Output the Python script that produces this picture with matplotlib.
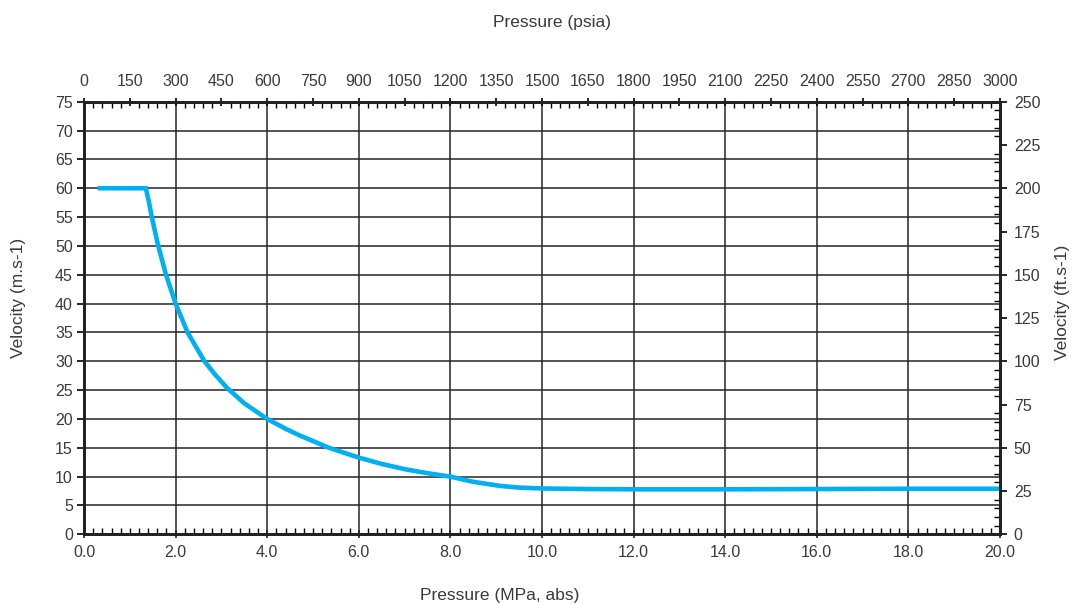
import matplotlib.pyplot as plt
from matplotlib.ticker import MultipleLocator

plt.rcParams["font.family"] = ["Liberation Sans", "DejaVu Sans"]
plt.rcParams["font.size"] = 11.5

# values
pressure_mpa = [0.3, 1.35, 1.42, 1.48, 1.62, 1.79, 2.0, 2.26, 2.63, 2.85, 3.12, 3.5, 4.0, 4.4, 4.72,
                5.35, 6.0, 6.5, 7.0, 7.5, 8.0, 8.5, 9.08, 9.5, 10.0, 11.0, 12.0, 14.0, 16.0, 18.0, 20.0]
velocity_ms = [60, 60, 57.5, 55, 50, 45, 40, 35, 30, 27.8, 25.4, 22.7, 20, 18.3, 17.1,
               15, 13.3, 12.2, 11.3, 10.6, 10.0, 9.1, 8.4, 8.1, 7.95, 7.85, 7.8, 7.8, 7.85, 7.9, 7.9]

mpa_ticks = [0, 2, 4, 6, 8, 10, 12, 14, 16, 18, 20]
psia_ticks = list(range(0, 3001, 150))
ms_ticks = list(range(0, 76, 5))
fts_ticks = list(range(0, 251, 25))

line_color = "#00B0F0"
grid_color = "#262626"
text_color = "#3a3a3a"

figure = plt.figure(figsize=(10.72, 6.03), dpi=100)
ax = figure.add_axes([0.0784, 0.1139, 0.8544, 0.7174])

ax.plot(pressure_mpa, velocity_ms, color=line_color, linewidth=3.3,
        solid_joinstyle="miter", solid_capstyle="butt", zorder=5)

ax.set_xlim(0, 20)
ax.set_ylim(0, 75)
ax.set_xticks(mpa_ticks)
ax.set_xticklabels([f"{t:.1f}" for t in mpa_ticks])
ax.set_yticks(ms_ticks)
ax.xaxis.set_minor_locator(MultipleLocator(0.2))
ax.grid(True, which="major", color=grid_color, linewidth=1.1)
ax.tick_params(axis="x", which="major", direction="inout", length=6, width=1.2, pad=5, colors="#222222", labelcolor=text_color)
ax.tick_params(axis="x", which="minor", direction="in", length=4, width=1.0)
ax.tick_params(axis="y", which="major", direction="out", length=5, width=1.2, pad=3, labelcolor=text_color)
ax.set_axisbelow(True)

ax_top = ax.twiny()
ax_top.set_xlim(0, 3000)
ax_top.set_xticks(psia_ticks)
ax_top.xaxis.set_minor_locator(MultipleLocator(30))
ax_top.tick_params(axis="x", which="major", direction="inout", length=6, width=1.2, pad=6, labelcolor=text_color)
ax_top.tick_params(axis="x", which="minor", direction="in", length=4, width=1.0)

ax_right = ax.twinx()
ax_right.set_ylim(0, 250)
ax_right.set_yticks(fts_ticks)
ax_right.yaxis.set_minor_locator(MultipleLocator(5))
ax_right.tick_params(axis="y", which="major", direction="out", length=5, width=1.2, pad=5, labelcolor=text_color)
ax_right.tick_params(axis="y", which="minor", direction="in", length=4, width=1.0)

for a in (ax, ax_top, ax_right):
    for spine in a.spines.values():
        spine.set_linewidth(1.8)
        spine.set_color("#222222")

figure.text(0.5145, 0.9635, "Pressure (psia)", ha="center", va="center", fontsize=12.5, color=text_color)
figure.text(0.466, 0.012, "Pressure (MPa, abs)", ha="center", va="center", fontsize=12.5, color=text_color)
figure.text(0.017, 0.506, "Velocity (m.s-1)", ha="center", va="center", rotation=90, fontsize=12.5, color=text_color)
figure.text(0.991, 0.498, "Velocity (ft.s-1)", ha="center", va="center", rotation=90, fontsize=12.5, color=text_color)

figure.savefig("out.png", dpi=100)
plt.close(figure)
